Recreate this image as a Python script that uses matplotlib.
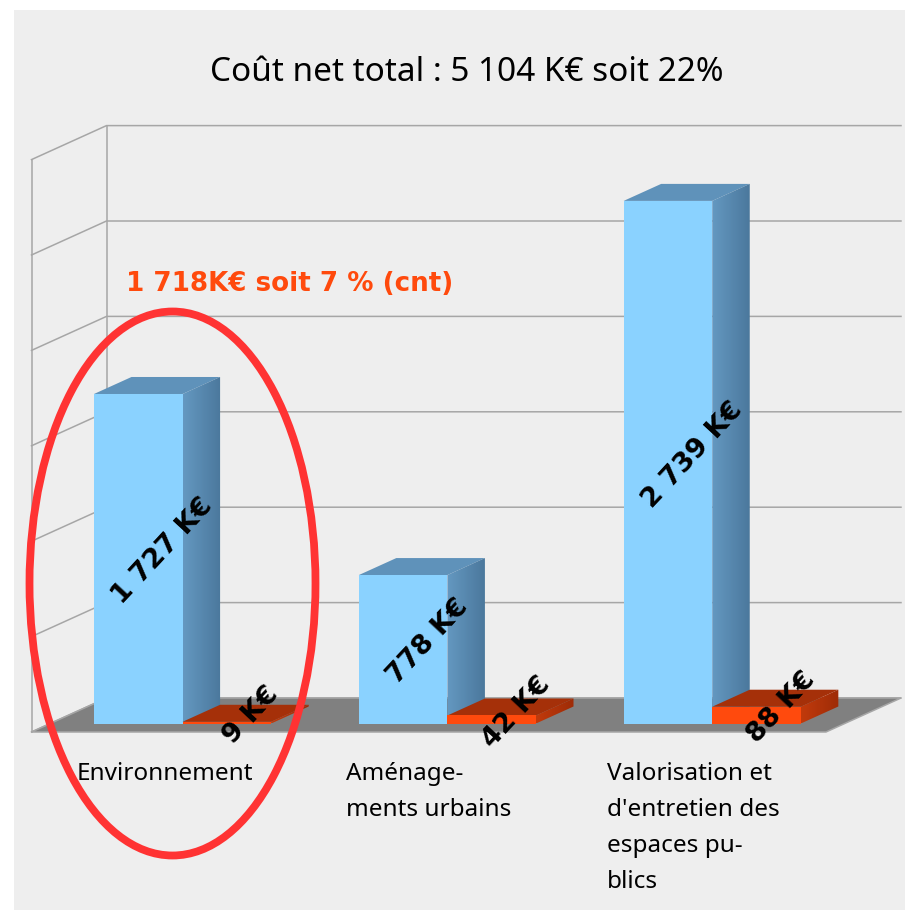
import numpy as np
import matplotlib
matplotlib.use("Agg")
import matplotlib.pyplot as plt
from matplotlib.patches import Polygon, Ellipse, Rectangle
from matplotlib.colors import LinearSegmentedColormap

W, H = 905, 911
title = "Coût net total : 5 104 K€ soit 22%"
note = "1 718K€ soit 7 % (cnt)"
categories = ["Environnement", "Aménage-\nments urbains", "Valorisation et\nd'entretien des\nespaces pu-\nblics"]
blue_values = [1727, 778, 2739]
orange_values = [9, 42, 88]
blue_labels = ["1 727 K€", "778 K€", "2 739 K€"]
orange_labels = ["9 K€", "42 K€", "88 K€"]
grid_values = [0, 500, 1000, 1500, 2000, 2500, 3000]

# scales: pixels per category, pixels per value, origin of value 0 on the bar plane
PX_CAT = 264.83
PX_VAL = 0.1908
X0 = 31.5
Y0 = 723.5
DEPTH_X = 37.5 / PX_CAT
DEPTH_Y = 17.0 / PX_VAL
BAR_OFF = 0.236
BAR_W = 0.3345

plt.rcParams["font.family"] = ["Noto Sans", "DejaVu Sans"]
BOLD = ["DejaVu Sans"]
fig = plt.figure(figsize=(W / 100, H / 100), dpi=100, facecolor="white")
ax = fig.add_axes([0, 0, 1, 1])
ax.set_xlim(-X0 / PX_CAT, (W - X0) / PX_CAT)
ax.set_ylim(-(H - Y0) / PX_VAL, Y0 / PX_VAL)
ax.axis("off")

def px(x, y):
    """pixel position -> data position (for annotations and panel)"""
    return (x - X0) / PX_CAT, (Y0 - y) / PX_VAL

# panel
(x1, y1), (x2, y2) = px(14, 910), px(905, 9.5)
ax.add_patch(Rectangle((x1, y1), x2 - x1, y2 - y1, fc="#EEEEEE", ec="none", zorder=0))

GRID = "#A6A6A6"
LW = 1.1
floor_front = -DEPTH_Y * 0.5
floor_back = floor_front + 2 * DEPTH_Y
wall_dx = 2 * DEPTH_X

# walls and grid
for v in grid_values:
    ax.plot([0, wall_dx, 3 + wall_dx], [floor_front + v, floor_back + v, floor_back + v],
            color=GRID, lw=LW, zorder=1, solid_joinstyle="miter")
top = grid_values[-1]
ax.plot([0, 0], [floor_front, floor_front + top], color=GRID, lw=LW, zorder=1)
ax.plot([wall_dx, wall_dx], [floor_back, floor_back + top], color=GRID, lw=LW, zorder=1)
# floor
ax.add_patch(Polygon([(0, floor_front), (3, floor_front), (3 + wall_dx, floor_back), (wall_dx, floor_back)],
                     fc="#808080", ec=GRID, lw=LW, zorder=1.5))

def bar3d(x, w, v, front, top_c, side0, side1, z):
    poly_top = Polygon([(x, v), (x + w, v), (x + w + DEPTH_X, v + DEPTH_Y), (x + DEPTH_X, v + DEPTH_Y)],
                       fc=top_c, ec="none", zorder=z)
    ax.add_patch(poly_top)
    side = Polygon([(x + w, 0), (x + w + DEPTH_X, DEPTH_Y), (x + w + DEPTH_X, v + DEPTH_Y), (x + w, v)],
                   fc="none", ec="none", zorder=z)
    ax.add_patch(side)
    cmap = LinearSegmentedColormap.from_list("s", [side0, side1])
    im = ax.imshow(np.linspace(0, 1, 64).reshape(1, -1), cmap=cmap, aspect="auto",
                   extent=(x + w, x + w + DEPTH_X, 0, v + DEPTH_Y), zorder=z)
    im.set_clip_path(side)
    ax.add_patch(Rectangle((x, 0), w, v, fc=front, ec="none", zorder=z + 0.1))

for i in range(3):
    xb = i + BAR_OFF
    xo = xb + BAR_W
    bar3d(xb, BAR_W, blue_values[i], "#8AD2FF", "#5F92BA", "#6498C1", "#4B789C", 2)
    bar3d(xo, BAR_W, orange_values[i], "#FF4A0D", "#A53009", "#C13A0C", "#9E2C07", 3)

# restore limits altered by imshow
ax.set_xlim(-X0 / PX_CAT, (W - X0) / PX_CAT)
ax.set_ylim(-(H - Y0) / PX_VAL, Y0 / PX_VAL)

# rotated value labels
LABEL_DX = 6 / PX_CAT
LABEL_DY = -1 / PX_VAL
for i in range(3):
    xb = i + BAR_OFF
    xo = xb + BAR_W
    ax.text(xb + BAR_W / 2 + DEPTH_X / 2 + LABEL_DX, blue_values[i] / 2 + DEPTH_Y / 2 + LABEL_DY, blue_labels[i],
            rotation=47, rotation_mode="anchor", ha="center", va="center", family=BOLD,
            fontsize=19.5, fontweight="bold", color="black", zorder=6)
    ax.text(xo + BAR_W / 2 + DEPTH_X / 2 + LABEL_DX, orange_values[i] / 2 + DEPTH_Y / 2 + LABEL_DY, orange_labels[i],
            rotation=47, rotation_mode="anchor", ha="center", va="center", family=BOLD,
            fontsize=19.5, fontweight="bold", color="black", zorder=6)

# category labels
for cat, lx in zip(categories, [77, 346, 607]):
    x, y = px(lx, 762)
    ax.text(x, y, cat, ha="left", va="top", fontsize=17.5, linespacing=1.67, color="black", zorder=6)

x, y = px(467, 72.5)
ax.text(x, y, title, ha="center", va="center", fontsize=24, color="black", zorder=6)
x, y = px(126, 284)
ax.text(x, y, note, ha="left", va="center", fontsize=18.8, fontweight="bold", family=BOLD,
        color="#FF4A0D", zorder=6)

# highlight ellipse
cx, cy = px(172.5, 583.5)
ax.add_patch(Ellipse((cx, cy), 286 / PX_CAT, 544 / PX_VAL, fc="none", ec="#FF3333", lw=5.6, zorder=5))

fig.savefig("out.png", dpi=100, facecolor="white")
